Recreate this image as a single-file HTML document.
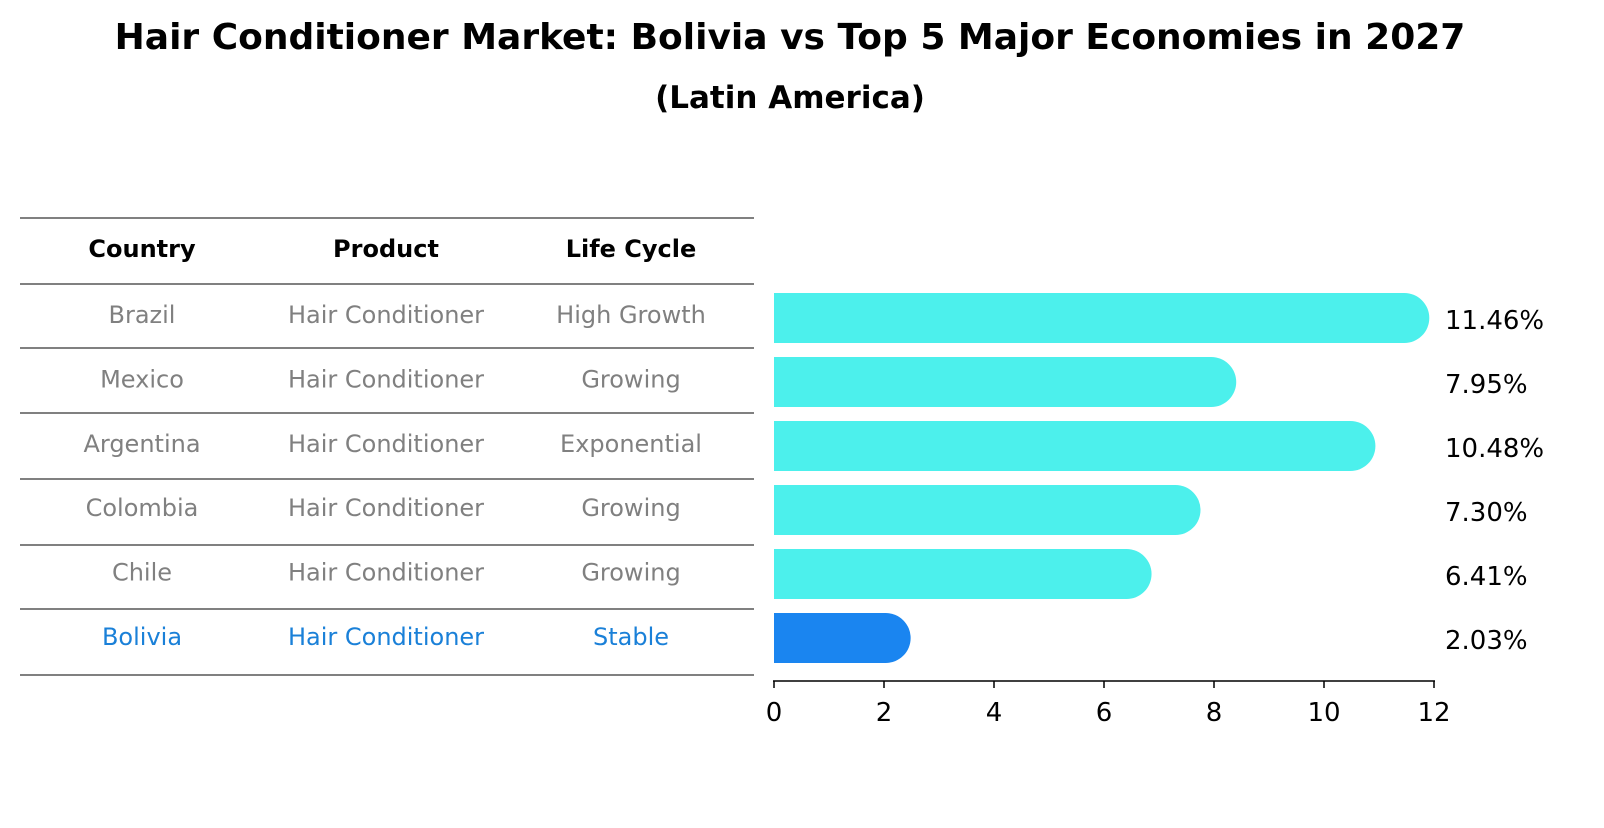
<!DOCTYPE html>
<html><head><meta charset="utf-8"><style>
body{margin:0;background:#fff;font-family:"Liberation Sans","DejaVu Sans",sans-serif;}
svg text{font-family:"DejaVu Sans","Liberation Sans",sans-serif;}
</style></head><body>
<svg id="c" width="1604" height="823" xmlns="http://www.w3.org/2000/svg">
<text x="790" y="49" text-anchor="middle" font-size="36" font-weight="bold">Hair Conditioner Market: Bolivia vs Top 5 Major Economies in 2027</text>
<text x="790" y="108" text-anchor="middle" font-size="31" font-weight="bold">(Latin America)</text>
<g id="table"></g>
<g id="bars"></g>
</svg>
<script>
const countries=["Brazil","Mexico","Argentina","Colombia","Chile","Bolivia"];
const products=["Hair Conditioner","Hair Conditioner","Hair Conditioner","Hair Conditioner","Hair Conditioner","Hair Conditioner"];
const lifecycles=["High Growth","Growing","Exponential","Growing","Growing","Stable"];
const values=[11.46,7.95,10.48,7.30,6.41,2.03];
const ticks=[0,2,4,6,8,10,12];
const NS="http://www.w3.org/2000/svg";
function mk(t,a,p){const e=document.createElementNS(NS,t);for(const k in a)e.setAttribute(k,a[k]);p.appendChild(e);return e;}
const tb=document.getElementById('table'),bg=document.getElementById('bars');
const lineYs=[218,284,348,413,479,545,609,675];
lineYs.forEach(y=>{const l=mk('line',{x1:20,x2:754,y1:y,y2:y,stroke:'#000','stroke-width':1},tb);

});
const cx=[142,386,631];
["Country","Product","Life Cycle"].forEach((h,i)=>{const t=mk('text',{x:cx[i],y:257,'text-anchor':'middle','font-size':24,'font-weight':'bold'},tb);t.textContent=h;

});
const X=v=>774+v*55;
const rowY=i=>318+i*64;
countries.forEach((c,i)=>{
 const last=i===countries.length-1;
 const col=last?'#1a80d8':'#808080';
 [c,products[i],lifecycles[i]].forEach((s,j)=>{const t=mk('text',{x:cx[j],y:rowY(i)+5+(i*0.4),'text-anchor':'middle','font-size':24,fill:col},tb);t.textContent=s;
 
 });
 const y=rowY(i),r=25,x1=X(values[i]);
 const p=mk('path',{d:`M${X(0)},${y-r} L${x1},${y-r} A${r},${r} 0 0 1 ${x1},${y+r} L${X(0)},${y+r} Z`,fill:last?'#1a85f0':'#4cf0ec'},bg);
 
 
 const t=mk('text',{x:1445,y:y+11,'font-size':26},bg);t.textContent=values[i].toFixed(2)+'%';
 
 
});
const ax=mk('line',{x1:X(0)-1,x2:X(12)+1,y1:681,y2:681,stroke:'#000','stroke-width':1.5},bg);


ticks.forEach(v=>{const l=mk('line',{x1:X(v),x2:X(v),y1:681,y2:688,stroke:'#000','stroke-width':1.5},bg);


const t=mk('text',{x:X(v),y:721,'text-anchor':'middle','font-size':26},bg);t.textContent=v;

});
</script>
</body></html>
